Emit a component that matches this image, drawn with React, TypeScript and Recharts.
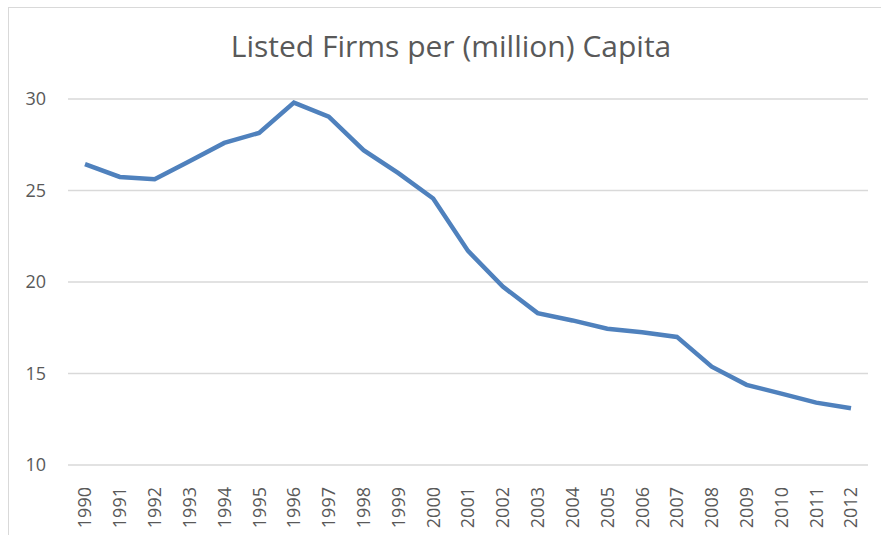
import { LineChart, Line, XAxis, YAxis, CartesianGrid } from 'recharts';

const years = [
  '1990', '1991', '1992', '1993', '1994', '1995', '1996', '1997', '1998', '1999', '2000', '2001',
  '2002', '2003', '2004', '2005', '2006', '2007', '2008', '2009', '2010', '2011', '2012',
];
const firmsPerCapita = [
  26.44, 25.74, 25.62, 26.6, 27.6, 28.15, 29.8, 29.03, 27.2, 25.95, 24.56, 21.7,
  19.75, 18.3, 17.9, 17.45, 17.25, 17.0, 15.37, 14.38, 13.9, 13.41, 13.1,
];
const yTicks = [10, 15, 20, 25, 30];

const data = years.map((year, i) => ({ year, value: firmsPerCapita[i] }));

const textColor = '#595959';
const font = '"Open Sans", sans-serif';

const YearTick = ({ x, y, payload }: any) => (
  <text
    x={x}
    y={y + 14}
    transform={`rotate(-90, ${x}, ${y + 14})`}
    textAnchor="end"
    dy="0.36em"
    fill={textColor}
    fontSize={18}
    fontFamily={font}
  >
    {payload.value}
  </text>
);

export default function App() {
  return (
    <div
      style={{
        position: 'absolute',
        left: 8,
        top: 7,
        width: 873,
        height: 528,
        borderLeft: '1px solid #d9d9d9',
        borderTop: '1px solid #d9d9d9',
        background: '#fff',
      }}
    >
      <LineChart
        width={872}
        height={527}
        data={data}
        margin={{ top: 91, right: 13, left: 0, bottom: 0 }}
      >
        <text
          x={442}
          y={49}
          textAnchor="middle"
          fill={textColor}
          fontSize={30}
          fontFamily={font}
        >
          Listed Firms per (million) Capita
        </text>
        <CartesianGrid vertical={false} stroke="#d9d9d9" strokeWidth={1.5} />
        <XAxis
          dataKey="year"
          padding={{ left: 17, right: 17 }}
          axisLine={false}
          tickLine={false}
          interval={0}
          tick={<YearTick />}
          height={70}
        />
        <YAxis
          domain={[10, 30]}
          ticks={yTicks}
          width={59}
          axisLine={false}
          tickLine={false}
          tickSize={0}
          tickMargin={22}
          tick={{ fill: textColor, fontSize: 18, fontFamily: font }}
        />
        <Line
          dataKey="value"
          type="linear"
          stroke="#4f81bd"
          strokeWidth={4.5}
          dot={false}
          activeDot={false}
          isAnimationActive={false}
        />
      </LineChart>
    </div>
  );
}
